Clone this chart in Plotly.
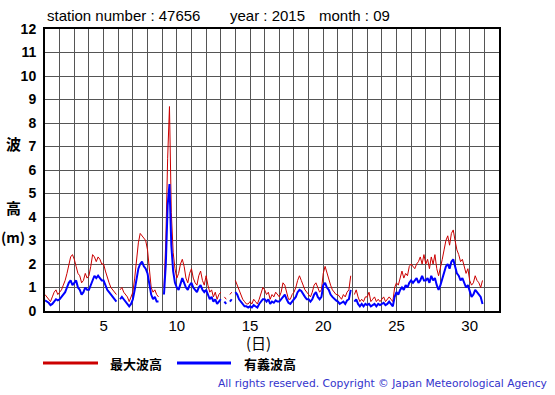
import plotly.graph_objects as go

# ---- data (3-hourly samples, 8 per day; None = missing) ----
days = list(range(1, 31))
hours = [0, 3, 6, 9, 12, 15, 18, 21]

max_wave = [
    0.7, 0.6, 0.5, 0.4, 0.6, 0.8, 0.9, 0.7,      # 1
    0.8, 0.9, 1.1, 1.3, 1.6, 1.9, 2.3, 2.4,      # 2
    2.2, 1.9, 1.6, 1.5, 1.2, 1.3, 1.6, 1.4,      # 3
    1.5, 1.9, 2.4, 2.3, 2.1, 2.3, 2.2, 2.0,      # 4
    2.0, 1.7, 1.4, 1.2, 1.0, 0.9, 0.8, 0.7,      # 5
    None, 0.9, 1.0, 0.8, 0.7, 0.6, 0.4, 0.6,     # 6
    0.8, 1.4, 2.2, 2.9, 3.3, 3.2, 3.1, 3.0,      # 7
    2.6, 1.8, 1.0, 0.8, 0.9, 0.7, 0.6, None,     # 8
    None, 1.0, 3.0, 6.5, 8.7, 4.2, 2.5, 1.8,     # 9
    1.4, 1.6, 2.0, 2.2, 1.9, 1.4, 1.2, 1.6,      # 10
    1.8, 1.4, 1.2, 1.1, 1.5, 1.7, 1.3, 1.1,      # 11
    1.5, 1.1, 0.8, 0.9, 0.6, 0.8, 0.5, 0.7,      # 12
    0.8, None, 0.6, 0.5, None, 0.7, 0.8, None,   # 13
    1.3, 1.1, 0.9, 0.7, 0.5, 0.4, 0.3, 0.3,      # 14
    0.4, 0.3, 0.5, 0.4, 0.3, 0.5, 0.8, 1.0,      # 15
    0.9, 0.7, 0.8, 0.5, 0.7, 0.6, 0.8, 0.7,      # 16
    0.6, 0.8, 1.2, 1.1, 0.8, 0.5, 0.5, 0.7,      # 17
    0.8, 1.0, 1.3, 1.5, 1.3, 1.1, 0.9, 0.8,      # 18
    0.7, 0.6, 0.8, 1.1, 1.2, 1.0, 0.8, 0.9,      # 19
    1.6, 1.9, 1.6, 1.3, 1.1, 0.9, 0.8, 0.7,      # 20
    0.7, 0.6, 0.5, 0.7, 0.6, 0.8, 0.9, 1.5,      # 21
    None, 0.7, 0.9, 0.6, 0.4, 0.5, 0.4, 0.6,     # 22
    0.6, 0.8, 0.4, 0.5, 0.6, 0.4, 0.5, 0.4,      # 23
    0.5, 0.6, 0.4, 0.5, 0.6, 0.5, 0.4, 1.0,      # 24
    1.2, 1.1, 1.4, 1.7, 1.4, 1.6, 1.5, 1.9,      # 25
    2.0, 1.9, 1.8, 2.0, 2.1, 2.3, 2.0, 2.4,      # 26
    2.0, 2.2, 1.8, 2.3, 2.0, 2.4, 1.8, 1.5,      # 27
    1.8, 2.2, 2.6, 3.0, 3.2, 2.8, 3.3, 3.45,     # 28
    3.0, 2.6, 2.4, 2.1, 2.2, 1.9, 1.6, 1.8,      # 29
    1.3, 1.1, 1.2, 1.5, 1.3, 1.2, 1.0, 1.3,      # 30
]

sig_wave = [
    0.45, 0.4, 0.35, 0.25, 0.3, 0.4, 0.5, 0.45,  # 1
    0.5, 0.6, 0.7, 0.8, 1.0, 1.2, 1.3, 1.1,      # 2
    1.2, 1.3, 1.0, 0.9, 0.7, 0.8, 1.0, 0.9,      # 3
    0.9, 1.1, 1.3, 1.5, 1.4, 1.5, 1.4, 1.3,      # 4
    1.3, 1.1, 0.9, 0.8, 0.7, 0.6, 0.5, 0.4,      # 5
    None, 0.5, 0.6, 0.5, 0.4, 0.3, 0.2, 0.3,     # 6
    0.5, 0.9, 1.3, 1.8, 2.0, 2.1, 1.9, 1.8,      # 7
    1.6, 1.2, 0.7, 0.5, 0.6, 0.4, 0.4, None,     # 8
    None, 0.7, 2.0, 4.5, 5.4, 2.8, 1.7, 1.2,     # 9
    1.0, 0.9, 1.2, 1.4, 1.2, 1.0, 0.9, 1.1,      # 10
    1.2, 1.0, 0.9, 0.8, 1.0, 1.1, 0.9, 0.8,      # 11
    0.9, 0.7, 0.5, 0.6, 0.4, 0.5, 0.3, 0.4,      # 12
    0.5, None, 0.4, 0.3, None, 0.4, 0.5, None,   # 13
    0.8, 0.7, 0.5, 0.4, 0.3, 0.2, 0.2, 0.15,     # 14
    0.2, 0.15, 0.25, 0.2, 0.15, 0.3, 0.4, 0.5,   # 15
    0.5, 0.4, 0.5, 0.3, 0.4, 0.35, 0.45, 0.4,    # 16
    0.4, 0.5, 0.6, 0.7, 0.5, 0.35, 0.3, 0.4,     # 17
    0.5, 0.6, 0.8, 0.9, 0.85, 0.7, 0.6, 0.5,     # 18
    0.5, 0.4, 0.5, 0.7, 0.8, 0.6, 0.5, 0.6,      # 19
    1.1, 1.2, 1.0, 0.9, 0.7, 0.6, 0.5, 0.45,     # 20
    0.4, 0.3, 0.35, 0.4, 0.3, 0.45, 0.5, 0.9,    # 21
    None, 0.4, 0.5, 0.3, 0.2, 0.3, 0.2, 0.3,     # 22
    0.25, 0.3, 0.2, 0.25, 0.3, 0.2, 0.3, 0.25,   # 23
    0.3, 0.35, 0.25, 0.3, 0.4, 0.3, 0.2, 0.6,    # 24
    0.8, 0.7, 0.9, 1.0, 0.9, 1.1, 1.0, 1.2,      # 25
    1.3, 1.2, 1.3, 1.4, 1.2, 1.3, 1.5, 1.3,      # 26
    1.3, 1.4, 1.2, 1.5, 1.3, 1.4, 1.1, 0.9,      # 27
    1.1, 1.4, 1.6, 1.9, 2.0, 1.8, 2.1, 2.2,      # 28
    1.9, 1.6, 1.5, 1.3, 1.4, 1.2, 1.0, 1.1,      # 29
    0.8, 0.6, 0.7, 0.9, 0.8, 0.7, 0.6, 0.3,      # 30
]

x_ticks = [5, 10, 15, 20, 25, 30]
y_ticks = list(range(0, 13))

times = [d + h / 24 for d in days for h in hours]

RED = "#cc0000"
BLUE = "#0000ff"
LATIN = "Liberation Sans, Arial, sans-serif"
CJK = "Noto Sans CJK JP, sans-serif"

fig = go.Figure()
fig.add_trace(go.Scatter(x=times, y=max_wave, mode="lines", name="最大波高",
                         line=dict(color=RED, width=1), connectgaps=False))
fig.add_trace(go.Scatter(x=times, y=sig_wave, mode="lines", name="有義波高",
                         line=dict(color=BLUE, width=2), connectgaps=False))

L, R, T, B = 45, 56, 29, 84
W, H = 555, 395
pw, ph = W - L - R, H - T - B

def px(xp):
    return (xp - L) / pw

def py(yp):
    return (H - B - yp) / ph

fig.update_layout(
    width=W, height=H,
    margin=dict(l=L, r=R, t=T, b=B, pad=0),
    paper_bgcolor="white", plot_bgcolor="white",
    showlegend=False,
    xaxis=dict(range=[1, 32], tickvals=x_ticks, ticks="", showgrid=True,
               gridcolor="#555555", gridwidth=1,
               minor=dict(dtick=1, tick0=1, showgrid=True, gridcolor="#555555", gridwidth=1),
               showline=True, linecolor="black", linewidth=2, mirror=True,
               zeroline=False, tickfont=dict(family=LATIN, size=15, color="black")),
    yaxis=dict(range=[0, 12], tickvals=y_ticks, ticks="", showgrid=True,
               gridcolor="#555555", gridwidth=1,
               showline=True, linecolor="black", linewidth=2, mirror=True,
               zeroline=False, ticklabelstandoff=4,
               tickfont=dict(family=LATIN, size=14, color="black", weight="bold")),
)

ann = [
    dict(text="station number : 47656", x=px(45), y=py(16), xanchor="left", yanchor="middle",
         font=dict(family=LATIN, size=15, color="black")),
    dict(text="year : 2015", x=px(228), y=py(16), xanchor="left", yanchor="middle",
         font=dict(family=LATIN, size=15, color="black")),
    dict(text="month : 09", x=px(317), y=py(16), xanchor="left", yanchor="middle",
         font=dict(family=LATIN, size=15, color="black")),
    dict(text="(日)", x=px(258), y=py(342), xanchor="center", yanchor="middle",
         font=dict(family=CJK, size=15, color="black")),
    dict(text="<b>波</b>", x=px(13), y=py(143), xanchor="center", yanchor="middle",
         font=dict(family=CJK, size=15, color="black")),
    dict(text="<b>高</b>", x=px(13), y=py(207), xanchor="center", yanchor="middle",
         font=dict(family=CJK, size=15, color="black")),
    dict(text="<b>(m)</b>", x=px(13), y=py(237), xanchor="center", yanchor="middle",
         font=dict(family=CJK, size=14, color="black")),
    dict(text="<b>最大波高</b>", x=px(108), y=py(363), xanchor="left", yanchor="middle",
         font=dict(family=CJK, size=13, color="black")),
    dict(text="<b>有義波高</b>", x=px(242), y=py(363), xanchor="left", yanchor="middle",
         font=dict(family=CJK, size=13, color="black")),
    dict(text="All rights reserved. Copyright © Japan Meteorological Agency",
         x=px(549), y=py(384), xanchor="right", yanchor="middle",
         font=dict(family="DejaVu Sans, Verdana, sans-serif", size=10.7, color="#3333cc")),
]
for a in ann:
    a.update(xref="paper", yref="paper", showarrow=False)
fig.update_layout(annotations=ann)

fig.update_layout(shapes=[
    dict(type="line", xref="paper", yref="paper", x0=px(43), x1=px(98), y0=py(363), y1=py(363),
         line=dict(color=RED, width=3)),
    dict(type="line", xref="paper", yref="paper", x0=px(177), x1=px(231), y0=py(363), y1=py(363),
         line=dict(color=BLUE, width=3)),
])

fig.write_html("out.html", config={"displayModeBar": False},
               post_script="document.body.style.margin='0';document.body.style.overflow='hidden';")
